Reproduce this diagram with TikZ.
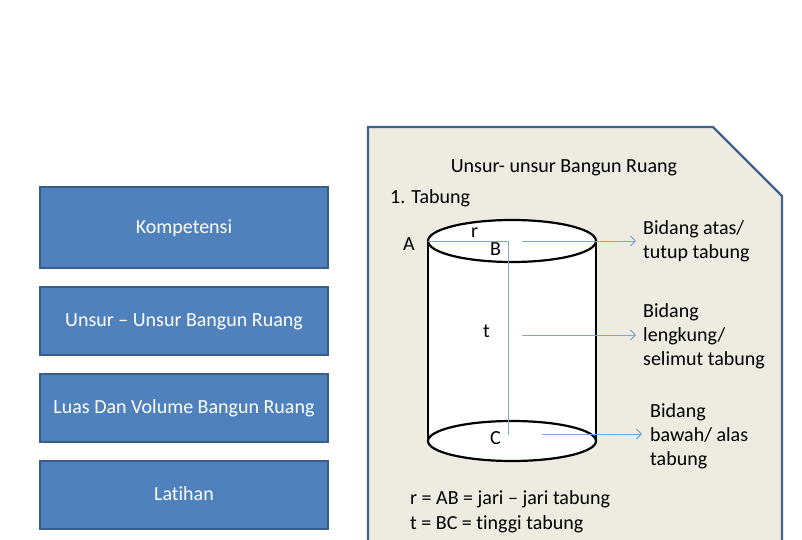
\documentclass[tikz,border=0pt]{standalone}
\usepackage{fontspec}
\setmainfont{Carlito}[Ligatures=NoCommon]
\usetikzlibrary{arrows.meta}
\definecolor{boxblue}{HTML}{4F81BD}
\definecolor{boxedge}{HTML}{385D8A}
\definecolor{panelfill}{HTML}{EEECE1}
\definecolor{paneledge}{HTML}{3F6391}
\definecolor{guide}{HTML}{7FA5D3}
\begin{document}
\begin{tikzpicture}[x=1pt,y=-1pt,
  menubox/.style={draw=boxedge, line width=1.3pt, fill=boxblue, text=white,
    minimum width=288pt, inner sep=0pt, text height=14pt, text depth=3pt,
    font=\fontsize{20}{24}\selectfont},
  txt/.style={inner sep=0pt, anchor=base west, font=\fontsize{20}{24}\selectfont, text=black},
  guideline/.style={draw=guide, line width=1pt},
  guidearrow/.style={guideline, -{Straight Barb[length=5pt,width=10pt]}},
  cyl/.style={draw=black, line width=2.2pt}]
\useasboundingbox (0,0) rectangle (802,540);
\clip (0,0) rectangle (802,540);
\fill[white] (0,0) rectangle (802,540);

% left menu
\node[menubox, minimum height=81pt] (komp) at (184,227.5) {Kompetensi};
\node[menubox, minimum height=68pt] (unsur) at (184,321) {Unsur – Unsur Bangun Ruang};
\node[menubox, minimum height=68pt] (luas) at (184,408) {Luas Dan Volume Bangun Ruang};
\node[menubox, minimum height=68pt] (lat) at (184,495) {Latihan};

% panel
\draw[draw=paneledge, line width=2.3pt, fill=panelfill, line join=miter]
  (368,127) -- (713,127) -- (782,196) -- (782,570) -- (368,570) -- cycle;

\node[txt, anchor=base] (title) at (564,172) {Unsur- unsur Bangun Ruang};
\node[txt] (tab) at (390,203) {1. Tabung};

% cylinder
\fill[white] (512,441) ellipse (84 and 20);
\fill[white] (428,241) rectangle (596,441);
\draw[cyl] (512,441) ellipse (84 and 20);
\draw[cyl] (428,241) -- (428,441);
\draw[cyl] (596,241) -- (596,441);
\draw[cyl, fill=white] (512,241) ellipse (84 and 21);

\coordinate (A) at (428,241);
\coordinate (B) at (508,241);
\coordinate (C) at (508,435);
\draw[guideline] (A) -- (B) -- (C);

\coordinate (s1) at (522,241);
\coordinate (e1) at (636,241);
\coordinate (s2) at (522,335);
\coordinate (e2) at (636,335);
\coordinate (s3) at (542,434);
\coordinate (e3) at (642,434);
\draw[guidearrow] (s1) -- (e1);
\draw[guidearrow] (s2) -- (e2);
\draw[guidearrow] (s3) -- (e3);

% point labels
\node[txt] (lA) at (403,250) {A};
\node[txt] (lr) at (471,237) {r};
\node[txt] (lB) at (490,255) {B};
\node[txt] (lt) at (483,337) {t};
\node[txt] (lC) at (490,444) {C};

% right labels
\node[txt] (a1) at (643,234) {Bidang atas/};
\node[txt] (a2) at (643,258) {tutup tabung};
\node[txt] (b1) at (643,317) {Bidang};
\node[txt] (b2) at (643,341) {lengkung/};
\node[txt] (b3) at (643,365) {selimut tabung};
\node[txt] (c1) at (650,417) {Bidang};
\node[txt] (c2) at (650,441) {bawah/ alas};
\node[txt] (c3) at (650,465) {tabung};

% formulas
\node[txt] (f1) at (410,504) {r = AB = jari – jari tabung};
\node[txt] (f2) at (410,529) {t = BC = tinggi tabung};
\end{tikzpicture}
\end{document}
